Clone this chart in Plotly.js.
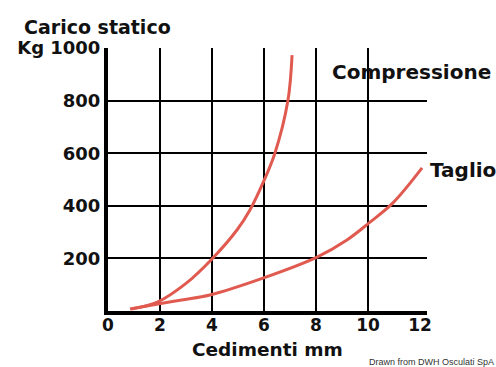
<!DOCTYPE html>
<html><head><meta charset="utf-8">
<script src="https://cdn.plot.ly/plotly-3.0.1.min.js"></script>
<style>html,body{margin:0;padding:0;background:#fff}#c{width:496px;height:367px}</style>
</head><body><div id="c"></div>
<script>
const compX = [0.9, 1.9, 3.0, 4.0, 4.96, 5.46, 5.96, 6.42, 6.92, 7.08];
const compY = [8, 34, 105, 198, 308, 384, 487, 600, 800, 973];
const taglioX = [0.85, 1.92, 2.9, 3.92, 5.96, 8.04, 9.19, 10.08, 10.96, 12.08];
const taglioY = [8, 27, 43, 61, 125, 205, 270, 338, 411, 544];
const xTicks = [0, 2, 4, 6, 8, 10, 12];
const xGrid = [2, 4, 6, 8, 10];
const yTicks = [200, 400, 600, 800, 1000];
const yTickText = ['200', '400', '600', '800', 'Kg 1000'];
const curveLabels = ['Compressione', 'Taglio'];

const FAM = 'DejaVu Sans, Liberation Sans, Arial, sans-serif';
const tickFont = {family: FAM, size: 18, color: '#111', weight: 'bold'};
const xTickFont = {family: FAM, size: 17, color: '#111', weight: 'bold'};
const bigFont = {family: FAM, size: 19, color: '#111', weight: 'bold'};
const xTitleFont = {family: FAM, size: 18.5, color: '#111', weight: 'bold'};
const labFont = {family: FAM, size: 20, color: '#111', weight: 'bold'};
const lineStyle = {color: '#e05a50', width: 3, shape: 'spline'};
const data = [
  {x: compX, y: compY, mode: 'lines', line: lineStyle, hoverinfo: 'skip'},
  {x: taglioX, y: taglioY, mode: 'lines', line: lineStyle, hoverinfo: 'skip'}
];
const layout = {
  width: 496, height: 367,
  margin: {l: 108, r: 69, t: 48, b: 56},
  paper_bgcolor: '#fff', plot_bgcolor: '#fff',
  showlegend: false,
  xaxis: {
    range: [0, 12.27], tickvals: xTicks, ticktext: xTicks.map(String),
    showgrid: false, zeroline: false, showline: true, linecolor: '#000', linewidth: 4,
    ticks: '', tickfont: xTickFont, ticklabelstandoff: -4, fixedrange: true
  },
  xaxis2: {
    overlaying: 'x', matches: 'x', range: [0, 12.27], tickvals: xGrid,
    showgrid: true, gridcolor: '#000', gridwidth: 2, showticklabels: false,
    zeroline: false, showline: false, ticks: ''
  },
  yaxis: {
    range: [0, 1000], tickvals: yTicks, ticktext: yTickText,
    showgrid: true, gridcolor: '#000', gridwidth: 2, zeroline: false,
    showline: true, linecolor: '#000', linewidth: 4, ticks: '', tickfont: tickFont, fixedrange: true
  },
  annotations: [
    {text: 'Carico statico', xref: 'paper', yref: 'paper', x: -0.27, y: 1.08, xanchor: 'left', yanchor: 'middle', showarrow: false, font: bigFont},
    {text: 'Cedimenti mm', xref: 'paper', yref: 'paper', x: 0.5, y: -0.145, xanchor: 'center', yanchor: 'middle', showarrow: false, font: xTitleFont},
    {text: curveLabels[0], xref: 'paper', yref: 'paper', x: 0.696, y: 0.909, xanchor: 'left', yanchor: 'middle', showarrow: false, font: labFont},
    {text: curveLabels[1], xref: 'paper', yref: 'paper', x: 1.003, y: 0.536, xanchor: 'left', yanchor: 'middle', showarrow: false, font: labFont},
    {text: 'Drawn from DWH Osculati SpA', xref: 'paper', yref: 'paper', x: 1.216, y: -0.194, xanchor: 'right', yanchor: 'middle', showarrow: false, font: {family: 'Liberation Sans Narrow, Liberation Sans, Arial, sans-serif', size: 9, color: '#333'}}
  ]
};
// invisible trace to activate xaxis2 gridlines
data.push({x: [0], y: [0], xaxis: 'x2', mode: 'markers', marker: {opacity: 0}, hoverinfo: 'skip'});
Plotly.newPlot('c', data, layout, {staticPlot: true, displayModeBar: false});
</script>
</body></html>
